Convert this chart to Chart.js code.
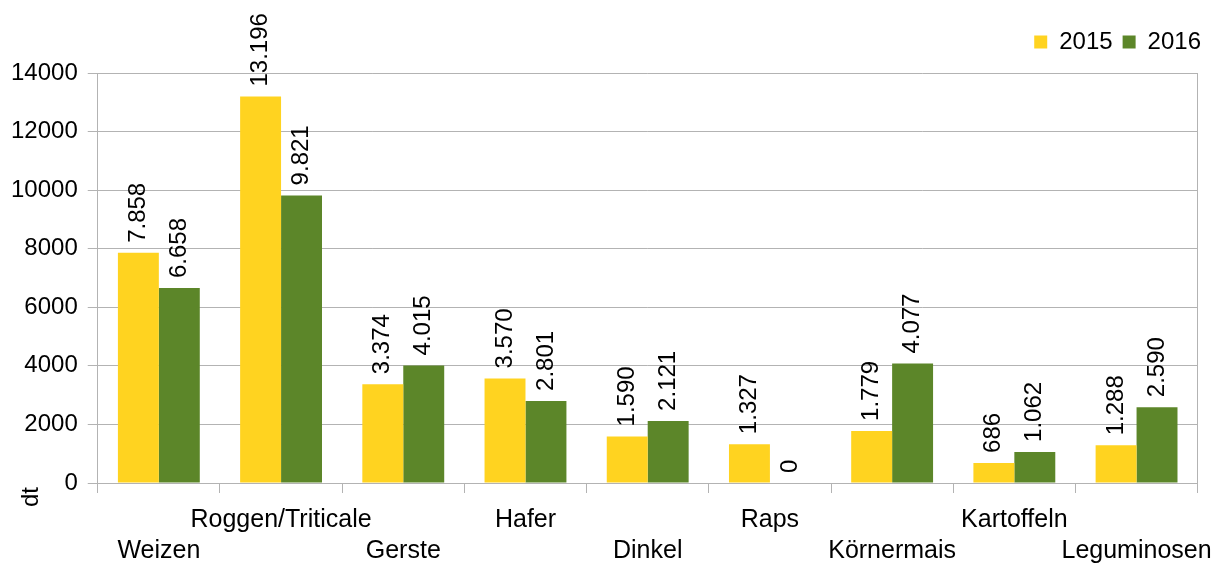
<!DOCTYPE html>
<html>

<head>
  <title>Ernte 2015 / 2016</title>
  <script src="https://cdn.jsdelivr.net/npm/chart.js"></script>
  <style>
    body { margin: 0; background: #fff; }
    #wrap { width: 1224px; height: 565px; }
  </style>
</head>

<body>
  <div id="wrap"><canvas id="harvestChart"></canvas></div>
  <script>
    // values (dt)
    const crops = ['Weizen', 'Roggen/Triticale', 'Gerste', 'Hafer', 'Dinkel', 'Raps', 'Körnermais', 'Kartoffeln', 'Leguminosen'];
    const values2015 = [7858, 13196, 3374, 3570, 1590, 1327, 1779, 686, 1288];
    const values2016 = [6658, 9821, 4015, 2801, 2121, 0, 4077, 1062, 2590];
    const yMax = 14000;
    const yStep = 2000;
    const unitLabel = 'dt';

    const gridGray = '#b3b3b3';
    const font = 'Liberation Sans, Arial, sans-serif';

    // staggered category labels: even ones on the lower row, odd ones on the upper row
    const tickLabels = crops.map((c, i) => i % 2 === 0 ? ['', c] : [c, '']);

    const fmt = v => String(v).replace(/\B(?=(\d{3})+(?!\d))/g, '.');

    // vertical value labels above each bar
    const valueLabels = {
      id: 'valueLabels',
      afterDatasetsDraw(chart) {
        const ctx = chart.ctx;
        ctx.save();
        ctx.font = '24px ' + font;
        ctx.fillStyle = '#000';
        ctx.textAlign = 'left';
        ctx.textBaseline = 'middle';
        chart.data.datasets.forEach((ds, di) => {
          chart.getDatasetMeta(di).data.forEach((bar, i) => {
            ctx.save();
            ctx.translate(bar.x, bar.y - 10);
            ctx.rotate(-Math.PI / 2);
            ctx.fillText(fmt(ds.data[i]), 0, 0);
            ctx.restore();
          });
        });
        // unit label at the foot of the y axis
        ctx.translate(38, 497);
        ctx.rotate(-Math.PI / 2);
        ctx.textAlign = 'center';
        ctx.textBaseline = 'alphabetic';
        ctx.fillText(unitLabel, 0, 0);
        ctx.restore();
      }
    };

    const ctx = document.getElementById('harvestChart').getContext('2d');
    const chart = new Chart(ctx, {
      type: 'bar',
      data: {
        labels: tickLabels,
        datasets: [{
          label: '2015',
          backgroundColor: '#ffd320',
          data: values2015
        }, {
          label: '2016',
          backgroundColor: '#5c8629',
          data: values2016
        }]
      },
      options: {
        responsive: true,
        maintainAspectRatio: false,
        animation: false,
        categoryPercentage: 0.67,
        barPercentage: 1.0,
        layout: { padding: { top: 20, left: 1, right: 13, bottom: -13 } },
        plugins: {
          legend: {
            position: 'top',
            align: 'end',
            labels: {
              boxWidth: 13,
              boxHeight: 13,
              padding: 10,
              color: '#000',
              font: { family: font, size: 24 }
            }
          },
          // empty spacer between legend and plot
          subtitle: {
            display: true,
            text: '',
            weight: 500,
            padding: 0,
            font: { size: 9, lineHeight: 1 }
          },
          tooltip: { enabled: false }
        },
        scales: {
          x: {
            grid: {
              drawOnChartArea: false,
              tickLength: 10,
              tickColor: gridGray,
              color: gridGray
            },
            border: { color: gridGray },
            ticks: {
              autoSkip: false,
              maxRotation: 0,
              minRotation: 0,
              padding: 11,
              color: '#000',
              font: { family: font, size: 25, lineHeight: 1.26 }
            }
          },
          y: {
            min: 0,
            max: yMax,
            grid: {
              color: gridGray,
              tickLength: 10
            },
            border: { color: gridGray },
            ticks: {
              stepSize: yStep,
              padding: 10,
              color: '#000',
              font: { family: font, size: 24 },
              callback: v => String(v)
            }
          },
          yRight: {
            position: 'right',
            display: true,
            grid: { display: false },
            border: { color: gridGray },
            ticks: { display: false },
            afterFit(scale) { scale.width = 12; }
          }
        }
      },
      plugins: [valueLabels]
    });
  </script>
</body>

</html>
